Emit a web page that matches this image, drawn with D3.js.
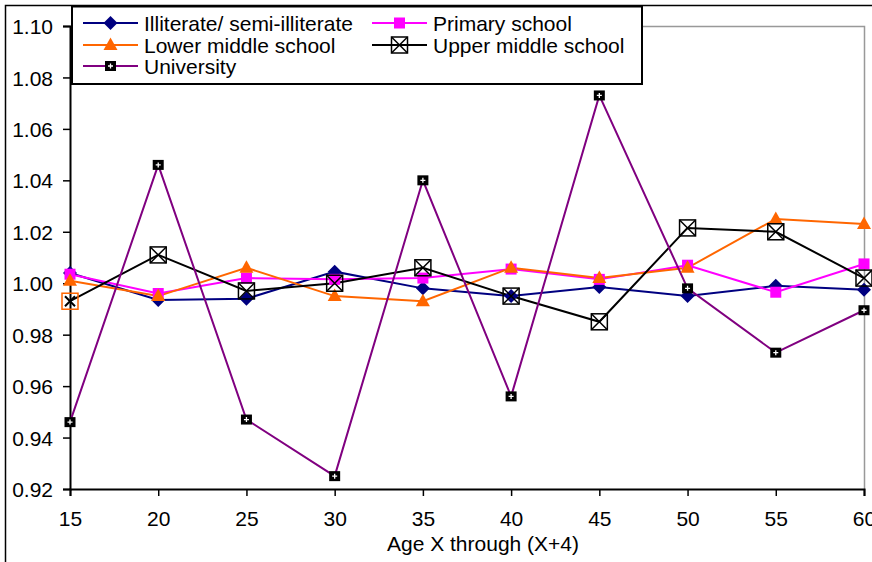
<!DOCTYPE html>
<html><head><meta charset="utf-8">
<script src="https://cdn.jsdelivr.net/npm/d3@7"></script>
<style>body{margin:0;background:#fff}svg{display:block;font-family:"Liberation Sans",Arial,sans-serif}</style>
</head><body><svg id="c" width="872" height="562"></svg>
<script>
const ages = [15,20,25,30,35,40,45,50,55,60];
const yTicks = [0.92,0.94,0.96,0.98,1.00,1.02,1.04,1.06,1.08,1.10];
const illiterate = [1.004,0.9935,0.994,1.0045,0.998,0.995,0.9985,0.995,0.999,0.9975];
const primary    = [1.0035,0.996,1.002,1.0015,1.002,1.0055,1.0015,1.007,0.9965,1.0075];
const lowerMid   = [1.001,0.995,1.006,0.995,0.993,1.006,1.002,1.006,1.025,1.023];
const upperMid   = [0.993,1.011,0.997,1.000,1.006,0.995,0.985,1.0215,1.020,1.002];
const university = [0.946,1.046,0.947,0.925,1.040,0.956,1.073,0.998,0.973,0.9895];
const seriesNames = ["Illiterate/ semi-illiterate","Primary school","Lower middle school","Upper middle school","University"];
const xTitle = "Age X through (X+4)";

const FS = 21;
const svg = d3.select("#c");
const L=70,R=864,T=26,B=489;
const x = d3.scaleLinear().domain([15,60]).range([L,R]);
const y = d3.scaleLinear().domain([0.92,1.10]).range([B,T]);

svg.append("rect").attr("x",5.5).attr("y",5.5).attr("width",900).attr("height",900)
  .attr("fill","none").attr("stroke","#000").attr("stroke-width",1.5);
svg.append("path").attr("d",`M${L},${T+0.5}H${R+0.5}V${B}`).attr("fill","none").attr("stroke","#999").attr("stroke-width",1.5);

const yAxis = svg.append("g").attr("transform",`translate(${L},0)`)
  .call(d3.axisLeft(y).tickValues(yTicks).tickFormat(d3.format(".2f")).tickSize(7).tickPadding(10));
const xAxis = svg.append("g").attr("transform",`translate(0,${B})`)
  .call(d3.axisBottom(x).tickValues(ages).tickFormat(d3.format("d")).tickSize(7).tickPadding(15));
[yAxis,xAxis].forEach(g=>{
  g.selectAll(".domain").attr("stroke","#000").attr("stroke-width",2);
  g.selectAll(".tick line").attr("stroke","#000").attr("stroke-width",1.5);
  g.selectAll("text").attr("font-size",FS).attr("font-family","Liberation Sans, Arial, sans-serif").attr("fill","#000");
});
yAxis.selectAll("text").attr("dy","0.36em");
svg.append("text").attr("x",(L+R)/2+16).attr("y",551).attr("text-anchor","middle")
  .attr("font-size",FS).text(xTitle);

function drawMarker(g,type,cx,cy,color,alt){
  if(type==="diamond"){
    g.append("path").attr("d",`M${cx},${cy-7}L${cx+7},${cy}L${cx},${cy+7}L${cx-7},${cy}Z`).attr("fill",color);
  } else if(type==="square"){
    g.append("rect").attr("x",cx-5.5).attr("y",cy-5.5).attr("width",11).attr("height",11).attr("fill",color);
  } else if(type==="triangle"){
    g.append("path").attr("d",`M${cx},${cy-7.5}L${cx+7},${cy+5}L${cx-7},${cy+5}Z`).attr("fill",color);
  } else if(type==="boxx"){
    const s=8;
    if(alt){
      g.append("rect").attr("x",cx-8).attr("y",cy-8).attr("width",16).attr("height",16).attr("fill","none").attr("stroke","#ff6600").attr("stroke-width",1.5);
      g.append("path").attr("d",`M${cx-5},${cy-5}L${cx+5},${cy+5}M${cx+5},${cy-5}L${cx-5},${cy+5}`).attr("stroke","#000").attr("stroke-width",2);
    } else {
      g.append("rect").attr("x",cx-s).attr("y",cy-s).attr("width",2*s).attr("height",2*s).attr("fill","none").attr("stroke","#000").attr("stroke-width",1.5);
      g.append("path").attr("d",`M${cx-s},${cy-s}L${cx+s},${cy+s}M${cx+s},${cy-s}L${cx-s},${cy+s}`).attr("stroke","#000").attr("stroke-width",1.5);
    }
  } else if(type==="uni"){
    g.append("rect").attr("x",cx-5.5).attr("y",cy-5).attr("width",11).attr("height",10).attr("fill","#000");
    g.append("path").attr("d",`M${cx-2.5},${cy}H${cx+2.5}M${cx},${cy-2.5}V${cy+2.5}`).attr("stroke","#fff").attr("stroke-width",1.3);
  }
}

const series = [
  {name:seriesNames[0],vals:illiterate,color:"#000080",m:"diamond"},
  {name:seriesNames[1],vals:primary,color:"#ff00ff",m:"square"},
  {name:seriesNames[2],vals:lowerMid,color:"#ff6600",m:"triangle"},
  {name:seriesNames[3],vals:upperMid,color:"#000000",m:"boxx"},
  {name:seriesNames[4],vals:university,color:"#800080",m:"uni"}
];
const line = d3.line().x((d,i)=>x(ages[i])).y(d=>y(d));
series.forEach(s=>{
  svg.append("path").datum(s.vals).attr("d",line).attr("fill","none").attr("stroke",s.color).attr("stroke-width",2);
});
series.forEach(s=>{
  const g=svg.append("g");
  s.vals.forEach((v,i)=>drawMarker(g,s.m,x(ages[i]),y(v),s.color,s.m==="boxx"&&i===0));
});

const lg = svg.append("g");
lg.append("rect").attr("x",72).attr("y",6.5).attr("width",570).attr("height",77.5).attr("fill","#fff").attr("stroke","#000").attr("stroke-width",2);
const pos = [[83,23],[372,23],[83,45],[372,45],[83,66]];
series.forEach((s,i)=>{
  const [lx,ly]=pos[i];
  lg.append("line").attr("x1",lx).attr("x2",lx+55).attr("y1",ly).attr("y2",ly).attr("stroke",s.color).attr("stroke-width",2);
  drawMarker(lg,s.m,lx+27.5,ly,s.color,false);
  lg.append("text").attr("x",lx+61).attr("y",ly).attr("dy","0.36em").attr("font-size",FS).text(s.name);
});
</script></body></html>
